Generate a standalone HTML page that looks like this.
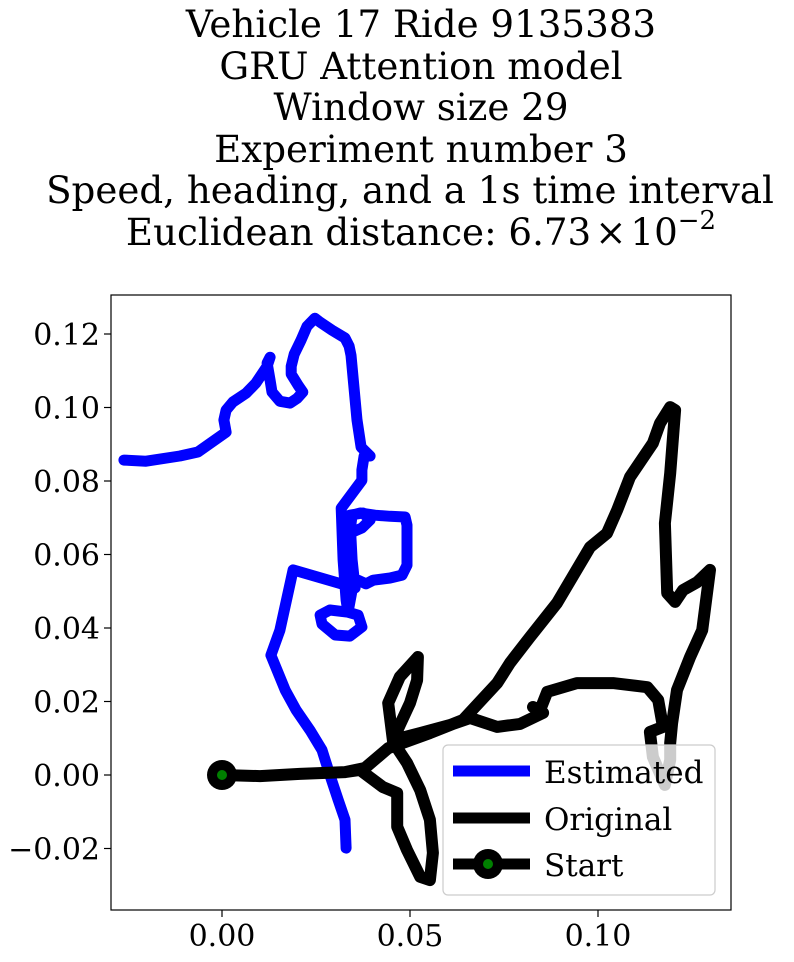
<!DOCTYPE html>
<html><head><meta charset="utf-8"><style>
html,body{margin:0;padding:0;background:#fff;}
svg text{font-family:"DejaVu Serif","Liberation Serif",serif;fill:#000;}
</style></head><body>
<svg id="chart" width="794" height="957" xmlns="http://www.w3.org/2000/svg">
<g font-size="37.2" text-anchor="middle">
<text x="421" y="37">Vehicle 17 Ride 9135383</text>
<text x="421" y="79">GRU Attention model</text>
<text x="421" y="120">Window size 29</text>
<text x="421" y="162">Experiment number 3</text>
<text x="410" y="203">Speed, heading, and a 1s time interval</text>
<text x="421" y="245">Euclidean distance: 6.73<tspan dx="4">×</tspan><tspan dx="4">10</tspan><tspan dy="-16" font-size="26">−2</tspan></text>
</g>
<defs><clipPath id="plotclip"><rect x="111" y="295" width="620" height="615"/></clipPath></defs>
<g id="series" clip-path="url(#plotclip)"></g>
<rect x="111" y="295" width="620" height="615" fill="none" stroke="#000" stroke-width="1.2"/>
<g id="axes"></g>
<g>
<rect x="443" y="745" width="272" height="150" rx="5" fill="#fff" fill-opacity="0.8" stroke="#ccc" stroke-width="1.2"/>
<g><line x1="453" y1="771" x2="530" y2="771" stroke="#00f" stroke-width="11"/><text x="544" y="783" font-size="31">Estimated</text></g>
<g><line x1="453" y1="818" x2="530" y2="818" stroke="#000" stroke-width="11"/><text x="544" y="830" font-size="31">Original</text></g>
<g><line x1="453" y1="864" x2="530" y2="864" stroke="#000" stroke-width="11"/><circle cx="488" cy="864" r="15" fill="#000"/><circle cx="488" cy="864" r="5" fill="green"/><text x="544" y="876" font-size="31">Start</text></g>
</g>
</svg>
<script>
const estX=[-.0261,-.0202,-.0112,-.0064,.0011,.0005,.0011,.0029,.0064,.0090,.0120,.0128,.0120,.0128,.0133,.0154,.0181,.0200,.0215,.0202,.0184,.0184,.0192,.0210,.0226,.0247,.0261,.0293,.0327,.0338,.0343,.0359,.0370,.0394,.0378,.0372,.0372,.0317,.0322,.0330,.0335,.0362,.0372,.0340,.0301,.0266,.0261,.0287,.0335,.0346,.0362,.0383,.0402,.0447,.0479,.0492,.0492,.0487,.0447,.0407,.0367,.0346,.0340,.0372,.0394,.0375,.0340,.0346,.0354,.0189,.0154,.0130,.0168,.0197,.0234,.0266,.0287,.0309,.0327,.0330];
const estY=[.0857,.0854,.0868,.0879,.0933,.0966,.0993,.1015,.1039,.1066,.1112,.1137,.1121,.1074,.1042,.1017,.1012,.1025,.1042,.1061,.1091,.1112,.1145,.1183,.1221,.1243,.1232,.1210,.1189,.1167,.1142,.0966,.0892,.0868,.0868,.0830,.0802,.0726,.0585,.0476,.0443,.0435,.0403,.0378,.0381,.0411,.0435,.0449,.0443,.0503,.0530,.0520,.0530,.0536,.0544,.0571,.0680,.0702,.0704,.0707,.0713,.0707,.0658,.0672,.0694,.0713,.0707,.0585,.0509,.0558,.0394,.0326,.0231,.0177,.0122,.0068,0,-.0068,-.0122,-.0199];
const origX=[0,.0101,.0207,.0327,.0367,.0428,.0466,.0466,.0492,.0527,.0553,.0561,.0553,.0527,.0492,.0455,.0442,.0473,.0521,.0519,.0500,.0473,.0455,.0527,.0606,.0660,.0732,.0793,.0854,.0827,.0846,.0865,.0944,.1040,.1131,.1160,.1173,.1138,.1146,.1178,.1192,.1192,.1197,.1210,.1245,.1277,.1285,.1298,.1264,.1226,.1205,.1184,.1178,.1192,.1205,.1192,.1165,.1146,.1085,.1051,.1024,.0979,.0891,.0819,.0766,.0732,.0641,.0553,.0442,.0380,.0327];
const origY=[0,-.0003,.0003,.0008,.0014,-.0033,-.0049,-.0141,-.0204,-.0277,-.0286,-.0212,-.0122,-.0041,.0033,.0090,.0196,.0267,.0321,.0258,.0196,.0136,.0095,.0114,.0136,.0155,.0131,.0139,.0169,.0185,.0177,.0226,.0250,.0250,.0239,.0204,.0131,.0117,.0049,-.0027,.0041,.0087,.0141,.0231,.0321,.0394,.0457,.0558,.0525,.0503,.0471,.0495,.0685,.0821,.0993,.1001,.0957,.0903,.0811,.0721,.0658,.0620,.0468,.0375,.0305,.0250,.0150,.0114,.0073,.0019,.0008];
const startPt=[0,0];
const xTicks=[0,0.05,0.10];
const xTickLabels=["0.00","0.05","0.10"];
const yTicks=[-0.02,0,0.02,0.04,0.06,0.08,0.10,0.12];
const yTickLabels=["−0.02","0.00","0.02","0.04","0.06","0.08","0.10","0.12"];

const NS="http://www.w3.org/2000/svg";
function sx(v){return 222+v*3760;}
function sy(v){return 775-v*3675;}
const series=document.getElementById('series');
const axes=document.getElementById('axes');
function pathFor(xs,ys){return xs.map((x,i)=>(i?'L':'M')+sx(x).toFixed(1)+' '+sy(ys[i]).toFixed(1)).join(' ');}

const est=document.createElementNS(NS,'path');
est.setAttribute('d',pathFor(estX,estY));
est.setAttribute('fill','none');est.setAttribute('stroke','#00f');est.setAttribute('stroke-width','11');
est.setAttribute('stroke-linejoin','round');est.setAttribute('stroke-linecap','round');


series.appendChild(est);

const orig=document.createElementNS(NS,'path');
orig.setAttribute('d',pathFor(origX,origY));
orig.setAttribute('fill','none');orig.setAttribute('stroke','#000');orig.setAttribute('stroke-width','12');
orig.setAttribute('stroke-linejoin','round');orig.setAttribute('stroke-linecap','round');


series.appendChild(orig);

const sm=document.createElementNS(NS,'g');


sm.innerHTML='<circle cx="'+sx(startPt[0])+'" cy="'+sy(startPt[1])+'" r="15" fill="#000"/><circle cx="'+sx(startPt[0])+'" cy="'+sy(startPt[1])+'" r="5" fill="green"/>';
series.appendChild(sm);

xTicks.forEach((t,i)=>{
  const g=document.createElementNS(NS,'g');
  
  
  g.innerHTML='<line x1="'+sx(t)+'" y1="910" x2="'+sx(t)+'" y2="917" stroke="#000" stroke-width="1.2"/><text x="'+sx(t)+'" y="946" font-size="30" text-anchor="middle">'+xTickLabels[i]+'</text>';
  axes.appendChild(g);
});
yTicks.forEach((t,i)=>{
  const g=document.createElementNS(NS,'g');
  
  
  g.innerHTML='<line x1="104" y1="'+sy(t)+'" x2="111" y2="'+sy(t)+'" stroke="#000" stroke-width="1.2"/><text x="100" y="'+(sy(t)+11)+'" font-size="30" text-anchor="end">'+yTickLabels[i]+'</text>';
  axes.appendChild(g);
});
</script>
</body></html>
